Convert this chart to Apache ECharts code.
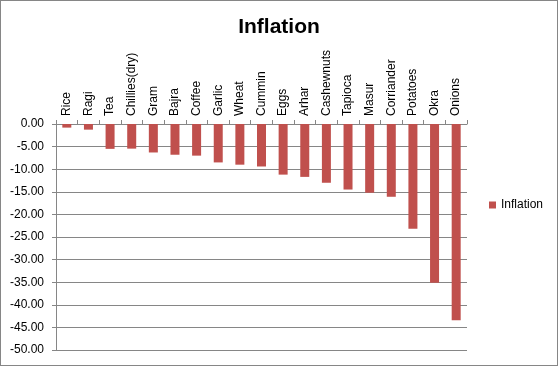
<!DOCTYPE html>
<html><head><meta charset="utf-8">
<script src="https://cdn.jsdelivr.net/npm/echarts@6/dist/echarts.min.js"></script>
<style>
html,body{margin:0;padding:0;background:#fff;}
#c{position:absolute;left:0;top:0;width:556px;height:364px;border:1px solid #868686;}
</style></head>
<body><div id="c"></div>
<script>
const categories = ["Rice","Ragi","Tea","Chillies(dry)","Gram","Bajra","Coffee","Garlic","Wheat","Cummin","Eggs","Arhar","Cashewnuts","Tapioca","Masur","Corriander","Potatoes","Okra","Onions"];
const inflation = [-0.8,-1.25,-5.5,-5.45,-6.3,-6.8,-7.0,-8.5,-9.0,-9.4,-11.2,-11.7,-13.0,-14.5,-15.2,-16.1,-23.2,-35.1,-43.4];
const seriesName = "Inflation";
const chartTitle = "Inflation";

const chart = echarts.init(document.getElementById('c'));
const font = '"Liberation Sans", Arial, sans-serif';
chart.setOption({
  animation: false,
  title: {text: chartTitle, left: 'center', top: 11, textStyle: {fontFamily: font, fontSize: 21, fontWeight: 'bold', color: '#000'}},
  legend: {orient: 'vertical', left: 483, top: 193, icon: 'rect', itemWidth: 7, itemHeight: 7, itemGap: 4,
    textStyle: {fontFamily: font, fontSize: 12, color: '#000'}, data: [seriesName]},
  grid: {left: 55, right: 90, top: 123, bottom: 15, containLabel: false},
  xAxis: {type: 'category', position: 'top', data: categories,
    axisLine: {lineStyle: {color: '#868686'}},
    axisTick: {show: true, inside: false, length: 4, alignWithLabel: false, lineStyle: {color: '#868686'}},
    axisLabel: {rotate: 90, interval: 0, margin: 8, fontFamily: font, fontSize: 12, color: '#000'}},
  yAxis: {type: 'value', min: -50, max: 0, interval: 5,
    axisLine: {show: true, lineStyle: {color: '#868686'}},
    axisTick: {show: true, length: 4, lineStyle: {color: '#868686'}},
    splitLine: {lineStyle: {color: '#868686'}},
    axisLabel: {margin: 12, fontFamily: font, fontSize: 12, color: '#000', formatter: v => v.toFixed(2)}},
  series: [{name: seriesName, type: 'bar', data: inflation, barWidth: 9, itemStyle: {color: '#C0504D'}}]
});
</script></body></html>
